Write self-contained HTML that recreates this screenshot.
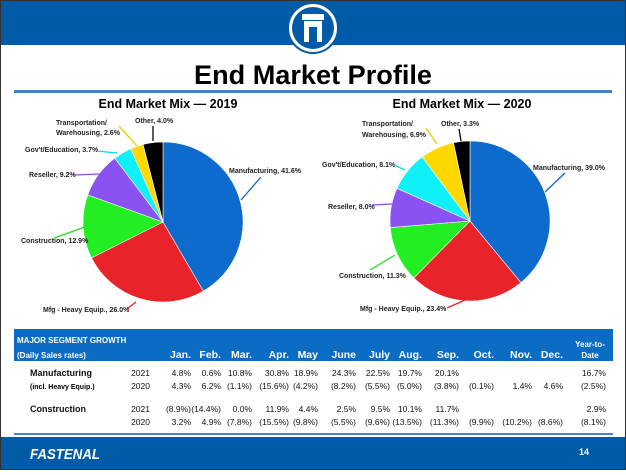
<!DOCTYPE html>
<html><head><meta charset="utf-8"><style>
body{margin:0;width:626px;height:470px;overflow:hidden;background:#fff;font-family:"Liberation Sans",sans-serif}
svg text{font-family:"Liberation Sans",sans-serif}
</style></head><body>
<svg id="s" width="626" height="470" xmlns="http://www.w3.org/2000/svg">
<rect x="0" y="0" width="626" height="470" fill="#fff"/>
<rect x="0" y="0" width="626" height="45" fill="#005ba6"/>
<circle cx="313" cy="28" r="25" fill="#fff" stroke="#005ba6" stroke-width="2"/>
<circle cx="313" cy="28" r="21" fill="#005ba6"/>
<rect x="302" y="14" width="22" height="6" fill="#fff"/>
<rect x="304" y="21" width="18" height="21" fill="#fff"/>
<rect x="309" y="27" width="8" height="15" fill="#005ba6"/>
<text x="313" y="84" font-size="27" font-weight="bold" text-anchor="middle" fill="#000" textLength="238" lengthAdjust="spacingAndGlyphs">End Market Profile</text>
<rect x="14" y="90" width="598" height="3" fill="#4a7fc1"/>
<text x="168" y="108" font-size="12.5" font-weight="bold" text-anchor="middle">End Market Mix — 2019</text>
<text x="462" y="108" font-size="12.5" font-weight="bold" text-anchor="middle">End Market Mix — 2020</text>
<g id="pies"></g>
<g font-size="7" font-weight="bold" fill="#222">
<text x="135" y="123">Other, 4.0%</text>
<text x="56" y="125">Transportation/</text>
<text x="56" y="135">Warehousing, 2.6%</text>
<text x="25" y="152">Gov't/Education, 3.7%</text>
<text x="29" y="177">Reseller, 9.2%</text>
<text x="21" y="243">Construction, 12.9%</text>
<text x="43" y="312">Mfg - Heavy Equip., 26.0%</text>
<text x="229" y="173">Manufacturing, 41.6%</text>
<text x="441" y="126">Other, 3.3%</text>
<text x="362" y="126">Transportation/</text>
<text x="362" y="137">Warehousing, 6.9%</text>
<text x="322" y="167">Gov't/Education, 8.1%</text>
<text x="328" y="209">Reseller, 8.0%</text>
<text x="339" y="278">Construction, 11.3%</text>
<text x="360" y="311">Mfg - Heavy Equip., 23.4%</text>
<text x="533" y="170">Manufacturing, 39.0%</text>
</g>
<g stroke-width="1.3" fill="none">
<line x1="153" y1="126" x2="153" y2="141" stroke="#000"/>
<line x1="119" y1="126" x2="137" y2="146" stroke="#f5c400"/>
<line x1="97" y1="151" x2="117" y2="153" stroke="#00d8f0"/>
<line x1="74" y1="175" x2="100" y2="174" stroke="#8a4ff0"/>
<line x1="54" y1="238" x2="85" y2="227" stroke="#22dd22"/>
<line x1="127" y1="309" x2="136" y2="302" stroke="#e82020"/>
<line x1="261" y1="177" x2="241" y2="200" stroke="#1565c0"/>
<line x1="459" y1="129" x2="461" y2="141" stroke="#000"/>
<line x1="426" y1="128" x2="437" y2="144" stroke="#f5c400"/>
<line x1="394" y1="165" x2="405" y2="170" stroke="#00d8f0"/>
<line x1="373" y1="205" x2="392" y2="204" stroke="#8a4ff0"/>
<line x1="370" y1="270" x2="395" y2="255" stroke="#22dd22"/>
<line x1="447" y1="308" x2="465" y2="300" stroke="#e82020"/>
<line x1="565" y1="173" x2="545" y2="192" stroke="#1565c0"/>
</g>
<rect x="14" y="329" width="599" height="32" fill="#0a6cc2"/>
<g fill="#fff" font-weight="bold" font-size="8">
<text x="17" y="343">MAJOR SEGMENT GROWTH</text>
<text x="17" y="358">(Daily Sales rates)</text>
</g>
<g fill="#fff" font-weight="bold" font-size="10.5" text-anchor="end" id="hdr"></g>
<g fill="#fff" font-weight="bold" font-size="8" text-anchor="middle">
<text x="590" y="347">Year-to-</text><text x="590" y="358">Date</text>
</g>
<g font-size="9" font-weight="bold" fill="#111">
<text x="30" y="376">Manufacturing</text>
<text x="30" y="412">Construction</text>
</g>
<text x="30" y="389" font-size="7" font-weight="bold">(incl. Heavy Equip.)</text>
<g font-size="8.5" fill="#111" text-anchor="end" id="tbl"></g>
<rect x="14" y="433" width="599" height="2" fill="#4a7fc1"/>
<rect x="0" y="437" width="626" height="33" fill="#005ba6"/>
<text x="30" y="459" font-size="15" font-weight="bold" font-style="italic" fill="#fff" textLength="70" lengthAdjust="spacingAndGlyphs">FASTENAL</text>
<text x="584" y="455" font-size="9" font-weight="bold" fill="#fff" text-anchor="middle">14</text>
<rect x="0.5" y="0.5" width="625" height="469" fill="none" stroke="#333"/>
</svg>
<script>
var NS="http://www.w3.org/2000/svg";
function pie(cx,cy,r,vals){var g=document.getElementById('pies');var cols=["#0c6bcc","#e8242a","#22ee22","#8a52f0","#10f0f8","#ffd800","#000"];var a=0;vals.forEach(function(v,i){var a1=a+v/100*2*Math.PI;var x0=cx+r*Math.sin(a),y0=cy-r*Math.cos(a),x1=cx+r*Math.sin(a1),y1=cy-r*Math.cos(a1);var p=document.createElementNS(NS,'path');p.setAttribute('d','M'+cx+','+cy+'L'+x0+','+y0+'A'+r+','+r+' 0 '+((a1-a)>Math.PI?1:0)+' 1 '+x1+','+y1+'Z');p.setAttribute('fill',cols[i]);p.setAttribute('stroke','#fff');p.setAttribute('stroke-width','0.6');g.appendChild(p);a=a1;});}
pie(163,222,80,[41.6,26.0,12.9,9.2,3.7,2.6,4.0]);
pie(470,221,80,[39.0,23.4,11.3,8.0,8.1,6.9,3.3]);
var xs=[191,221,252,289,318,356,390,422,459,494,532,563,606];
var h=["Jan.","Feb.","Mar.","Apr.","May","June","July","Aug.","Sep.","Oct.","Nov.","Dec."];
var hg=document.getElementById('hdr');h.forEach(function(t,i){var e=document.createElementNS(NS,'text');e.setAttribute('x',xs[i]);e.setAttribute('y',358);e.textContent=t;hg.appendChild(e);});
var rows=[[376,"2021",["4.8%","0.6%","10.8%","30.8%","18.9%","24.3%","22.5%","19.7%","20.1%","","","","16.7%"]],
[389,"2020",["4.3%","6.2%","(1.1%)","(15.6%)","(4.2%)","(8.2%)","(5.5%)","(5.0%)","(3.8%)","(0.1%)","1.4%","4.6%","(2.5%)"]],
[412,"2021",["(8.9%)","(14.4%)","0.0%","11.9%","4.4%","2.5%","9.5%","10.1%","11.7%","","","","2.9%"]],
[425,"2020",["3.2%","4.9%","(7.8%)","(15.5%)","(9.8%)","(5.5%)","(9.6%)","(13.5%)","(11.3%)","(9.9%)","(10.2%)","(8.6%)","(8.1%)"]]];
var tg=document.getElementById('tbl');rows.forEach(function(r){var e=document.createElementNS(NS,'text');e.setAttribute('x',150);e.setAttribute('y',r[0]);e.textContent=r[1];tg.appendChild(e);r[2].forEach(function(v,i){var e=document.createElementNS(NS,'text');e.setAttribute('x',xs[i]);e.setAttribute('y',r[0]);e.textContent=v;tg.appendChild(e);});});
</script>
</body></html>
